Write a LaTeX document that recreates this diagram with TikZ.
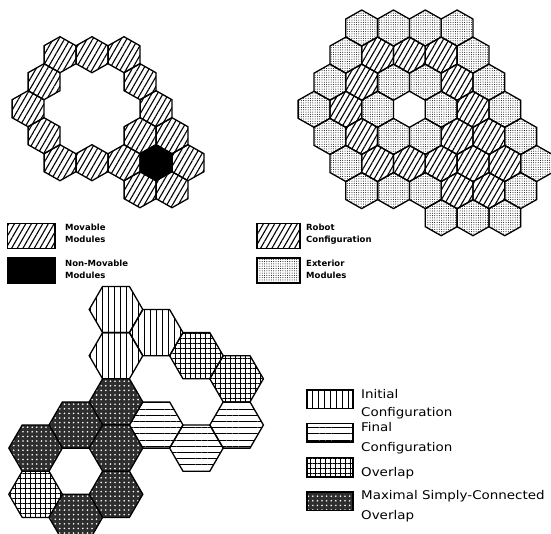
\documentclass[tikz,border=0pt]{standalone}
\usepackage{fontspec}
\setmainfont{DejaVu Sans}
\newfontfamily\legfont[FakeStretch=1.12]{DejaVu Sans}
\usetikzlibrary{patterns.meta}
\newcommand\hexP[3]{%
  \path[#1] (#2,#3-18) -- (#2+15.9,#3-9) -- (#2+15.9,#3+9) -- (#2,#3+18) -- (#2-15.9,#3+9) -- (#2-15.9,#3-9) -- cycle;}
\newcommand\hexF[3]{%
  \path[#1] (#2-26.8,#3) -- (#2-13.4,#3-23.1) -- (#2+13.4,#3-23.1) -- (#2+26.8,#3) -- (#2+13.4,#3+23.1) -- (#2-13.4,#3+23.1) -- cycle;}
\tikzset{
  edge/.style={draw=black, line width=1.3pt, line join=miter},
  hatchA/.style={edge, pattern={Lines[angle=60,distance=4.9pt,line width=1.1pt]}},
  dotsA/.style={edge, pattern={Dots[distance=2.3pt,radius=0.5pt]}},
  solidA/.style={edge, fill=black},
  vstripe/.style={edge, pattern={Lines[angle=90,distance=6pt,line width=0.9pt]}},
  hstripe/.style={edge, pattern={Lines[angle=0,distance=6.2pt,line width=0.9pt]}},
  gridA/.style={edge, pattern={Hatch[angle=0,distance=5pt,line width=0.8pt]}},
  darkA/.style={edge, preaction={fill=black!82}, pattern={Dots[distance=4.6pt,radius=0.9pt]}, pattern color=white},
  labA/.style={anchor=base west, inner sep=0pt, font=\fontsize{8.5}{10}\selectfont\bfseries},
  labB/.style={anchor=base west, inner sep=0pt, font=\legfont\fontsize{12}{14}\selectfont},
  box/.style={line width=1.2pt}
}
\begin{document}
\begin{tikzpicture}[x=1pt,y=-1pt]
\useasboundingbox (0,0) rectangle (551,533);
\clip (0,0) rectangle (551,533);
% ---------- top-left cluster ----------
\foreach \cx/\cy in {60/54.7, 92/54.7, 124/54.7, 44/81.7, 140/81.7, 28/108.7, 156/108.7,
  44/135.7, 140/135.7, 172/135.7, 60/162.7, 92/162.7, 124/162.7, 188/162.7, 140/189.7, 172/189.7}
  {\hexP{hatchA}{\cx}{\cy}}
\hexP{solidA}{156}{162.7}
% ---------- top-right cluster ----------
\foreach \k/\r in {3/0,5/0,7/0,9/0, 2/1,10/1, 1/2,5/2,7/2,11/2, 0/3,4/3,8/3,12/3,
  1/4,5/4,7/4,13/4, 2/5,14/5, 3/6,5/6,7/6,13/6, 8/7,10/7,12/7}
  {\hexP{dotsA}{314+15.9*\k}{28+27.1*\r}}
\foreach \k/\r in {4/1,6/1,8/1, 3/2,9/2, 2/3,10/3, 3/4,9/4,11/4, 4/5,6/5,8/5,10/5,12/5, 9/6,11/6}
  {\hexP{hatchA}{314+15.9*\k}{28+27.1*\r}}
% ---------- bottom cluster ----------
\foreach \c/\m in {0/0, 0/2, 1/1}
  {\hexF{vstripe}{116+40.2*\c}{309.5+23.1*\m}}
\foreach \c/\m in {3/5, 2/6, 1/5}
  {\hexF{hstripe}{116+40.2*\c}{309.5+23.1*\m}}
\foreach \c/\m in {2/2, 3/3, -2/8}
  {\hexF{gridA}{116+40.2*\c}{309.5+23.1*\m}}
\foreach \c/\m in {0/4, -1/5, -2/6, 0/6, 0/8, -1/9}
  {\hexF{darkA}{116+40.2*\c}{309.5+23.1*\m}}
% ---------- legends top ----------
\path[hatchA, box] (7.3,223.3) rectangle (55,248.3);
\node[labA] (mov1) at (65,230.7) {Movable};
\node[labA] (mov2) at (65,242.7) {Modules};
\path[solidA, box] (7.3,258) rectangle (55,283);
\node[labA] (non1) at (65,266) {Non-Movable};
\node[labA] (non2) at (65,278.3) {Modules};
\path[hatchA, box] (257,223.3) rectangle (300,248.3);
\node[labA] (rob1) at (306,230.7) {Robot};
\node[labA] (rob2) at (306,242.7) {Configuration};
\path[dotsA, box] (257,258) rectangle (300,283);
\node[labA] (ext1) at (306,266) {Exterior};
\node[labA] (ext2) at (306,278.3) {Modules};
% ---------- legend bottom ----------
\path[vstripe, box] (307,390) rectangle (353,408.5);
\node[labB] (ini1) at (361,398.3) {Initial};
\node[labB] (ini2) at (361,416.7) {Configuration};
\path[hstripe, box] (307,423.5) rectangle (353,442);
\node[labB] (fin1) at (361,431) {Final};
\node[labB] (fin2) at (361,451) {Configuration};
\path[gridA, box] (307,457.5) rectangle (353,477);
\node[labB] (ovl) at (361,476) {Overlap};
\path[darkA, box] (307,492) rectangle (353,510.5);
\node[labB] (max1) at (361,499.3) {Maximal Simply-Connected};
\node[labB] (max2) at (361,519.3) {Overlap};
\end{tikzpicture}
\end{document}
